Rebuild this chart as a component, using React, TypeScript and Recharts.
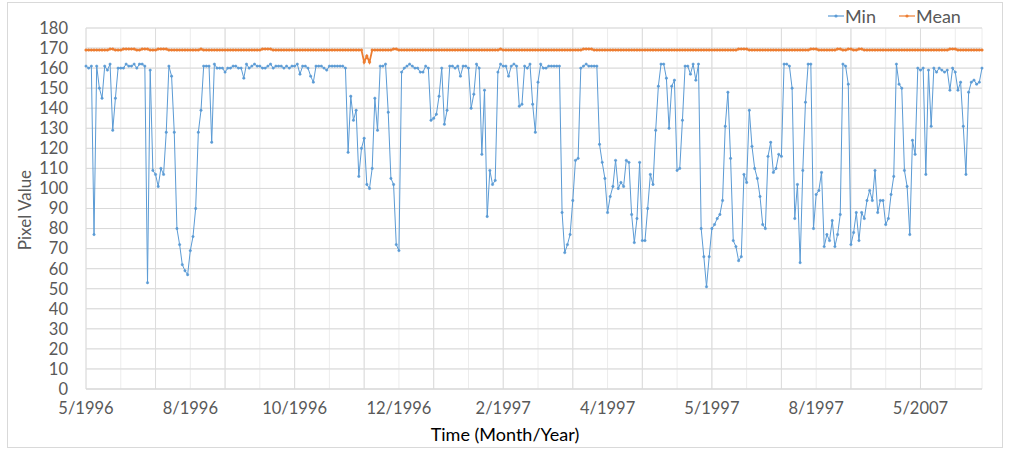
import {
  LineChart,
  Line,
  XAxis,
  YAxis,
  CartesianGrid,
  ReferenceLine,
  Legend,
} from 'recharts';

const X_LABELS = ['5/1996', '8/1996', '10/1996', '12/1996', '2/1997', '4/1997', '5/1997', '8/1997', '5/2007'];
const LABEL_STEP = 39;
const X_TICKS = [0, 13, 26, 39, 52, 65, 78, 91, 104, 117, 130, 143, 156, 169, 182, 195, 208, 221, 234, 247, 260, 273, 286, 299, 312, 325];
const MAJOR_X = [0, 26, 52, 78, 104, 130, 156, 182, 208, 234, 260, 286, 312];
const Y_TICKS = [0, 10, 20, 30, 40, 50, 60, 70, 80, 90, 100, 110, 120, 130, 140, 150, 160, 170, 180];

const MIN_VALUES = [
  161, 160, 161, 77, 161, 150, 145, 161, 159, 162,
  129, 145, 160, 160, 160, 162, 161, 161, 162, 160,
  162, 162, 161, 53, 159, 109, 107, 101, 110, 107,
  128, 161, 156, 128, 80, 72, 62, 59, 57, 69,
  76, 90, 128, 139, 161, 161, 161, 123, 162, 160,
  160, 160, 158, 160, 160, 161, 161, 160, 160, 155,
  162, 160, 161, 162, 161, 161, 160, 160, 161, 162,
  160, 161, 161, 161, 160, 161, 160, 161, 161, 162,
  157, 161, 161, 160, 156, 153, 161, 161, 161, 160,
  159, 161, 161, 161, 161, 161, 161, 160, 118, 146,
  134, 139, 106, 120, 125, 102, 100, 110, 145, 129,
  161, 161, 162, 138, 105, 102, 72, 69, 158, 160,
  161, 162, 161, 160, 160, 158, 158, 161, 160, 134,
  135, 137, 146, 160, 132, 139, 161, 161, 160, 161,
  156, 161, 161, 160, 140, 147, 162, 160, 117, 149,
  86, 109, 102, 104, 158, 162, 161, 161, 156, 161,
  162, 161, 141, 142, 161, 160, 162, 142, 128, 153,
  162, 160, 160, 161, 161, 161, 161, 161, 88, 68,
  72, 77, 94, 114, 115, 160, 161, 162, 161, 161,
  161, 161, 122, 113, 105, 88, 96, 101, 114, 100,
  103, 101, 114, 113, 87, 73, 85, 113, 74, 74,
  90, 107, 102, 129, 151, 162, 162, 155, 130, 151,
  154, 109, 110, 134, 161, 161, 157, 162, 154, 162,
  80, 66, 51, 66, 80, 82, 85, 87, 94, 131,
  148, 115, 74, 71, 64, 66, 107, 103, 139, 121,
  110, 105, 96, 82, 80, 116, 123, 108, 110, 117,
  116, 162, 162, 161, 150, 85, 102, 63, 109, 143,
  162, 162, 80, 97, 99, 108, 71, 77, 74, 84,
  71, 77, 87, 162, 161, 152, 72, 78, 88, 74,
  88, 85, 94, 99, 94, 109, 88, 94, 94, 82,
  85, 97, 106, 162, 152, 150, 109, 101, 77, 124,
  117, 160, 159, 160, 107, 159, 131, 160, 158, 160,
  159, 158, 159, 149, 160, 158, 149, 153, 131, 107,
  148, 153, 154, 152, 153, 160,
];

const MEAN_VALUES = [
  169, 169, 169, 169, 169, 169, 169, 169, 169, 169.5, 169.5, 169, 169, 169, 169.5, 169.5, 169.5, 169.5, 169.5, 169,
  169, 169.5, 169.5, 169.5, 169, 169, 169, 169.5, 169.5, 169.5, 169.5, 169, 169, 169, 169, 169, 169, 169, 169, 169,
  169, 169, 169, 169.5, 169, 169, 169, 169, 169, 169, 169, 169, 169, 169, 169, 169, 169, 169, 169, 169,
  169, 169, 169, 169, 169, 169, 169.5, 169.5, 169.5, 169.5, 169, 169, 169, 169, 169, 169, 169, 169, 169, 169,
  169, 169, 169, 169, 169, 169, 169, 169, 169, 169, 169, 169, 169, 169, 169, 169, 169, 169, 169, 169,
  169, 169, 169, 169, 163, 166, 163, 169, 169, 169, 169, 169, 169, 169, 169, 169.5, 169.5, 169, 169, 169,
  169, 169, 169, 169, 169, 169, 169, 169, 169, 169, 169, 169, 169, 169, 169, 169, 169, 169, 169, 169,
  169, 169, 169, 169, 169, 169, 169, 169, 169, 169, 169, 169, 169, 169, 169, 169.5, 169, 169, 169, 169,
  169, 169, 169, 169, 169, 169, 169, 169, 169, 169, 169, 169, 169, 169, 169, 169, 169, 169, 169, 169,
  169, 169, 169, 169, 169, 169, 169.5, 169.5, 169.5, 169.5, 169, 169, 169, 169, 169, 169, 169, 169, 169, 169,
  169, 169, 169, 169, 169, 169, 169, 169, 169, 169, 169, 169, 169, 169, 169, 169, 169, 169, 169, 169,
  169, 169, 169, 169, 169, 169, 169, 169, 169, 169, 169, 169, 169, 169, 169, 169, 169, 169, 169, 169,
  169, 169, 169, 169, 169.5, 169.5, 169.5, 169.5, 169, 169, 169, 169, 169, 169, 169, 169, 169, 169, 169, 169,
  169, 169, 169, 169, 169, 169, 169, 169, 169, 169, 169, 169.5, 169.5, 169.5, 169, 169, 169, 169, 169, 169,
  169, 169.5, 169.5, 169, 169, 169.5, 169.5, 169, 169, 169.5, 169.5, 169, 169, 169, 169, 169, 169, 169, 169, 169,
  169, 169, 169, 169, 169, 169, 169, 169, 169, 169, 169, 169, 169, 169, 169, 169, 169, 169, 169, 169,
  169, 169, 169, 169.5, 169.5, 169.5, 169, 169, 169, 169, 169, 169, 169, 169, 169, 169,
];

const MIN_COLOR = '#5B9BD5';
const MEAN_COLOR = '#ED7D31';
const TEXT_COLOR = '#595959';

const data = MIN_VALUES.map((v, i) => ({ i, min: v, mean: MEAN_VALUES[i] }));

const SERIES = [
  { key: 'min', name: 'Min', color: MIN_COLOR },
  { key: 'mean', name: 'Mean', color: MEAN_COLOR },
];

function LegendContent() {
  return (
    <div style={{ display: 'flex', alignItems: 'center', fontSize: 18, color: TEXT_COLOR, lineHeight: '22px' }}>
      {SERIES.map((s) => (
        <div key={s.key} style={{ display: 'flex', alignItems: 'center', marginRight: 23 }}>
          <svg width={16} height={10}>
            <line x1={0} y1={5} x2={16} y2={5} stroke={s.color} strokeWidth={1.2} />
            <circle cx={8} cy={5} r={1.6} fill={s.color} />
          </svg>
          <span style={{ marginLeft: 1 }}>{s.name}</span>
        </div>
      ))}
    </div>
  );
}

export default function App() {
  return (
    <div
      style={{
        position: 'absolute',
        left: 7,
        top: 2,
        width: 996,
        height: 446,
        border: '1px solid #d9d9d9',
        boxSizing: 'border-box',
        fontFamily: 'Lato, "Open Sans", sans-serif',
        background: '#fff',
      }}
    >
      <LineChart width={994} height={444} data={data} margin={{ top: 25, right: 20, left: 0, bottom: 0 }}>
        <CartesianGrid stroke="#ececec" strokeWidth={1} />
        <CartesianGrid stroke="#d9d9d9" vertical={false} />
        {MAJOR_X.map((x) => (
          <ReferenceLine key={x} x={x} stroke="#dcdcdc" strokeWidth={1} />
        ))}
        <XAxis
          dataKey="i"
          type="number"
          domain={[0, 335]}
          ticks={X_TICKS}
          interval={0}
          tickFormatter={(v: number) => (v % LABEL_STEP === 0 ? X_LABELS[v / LABEL_STEP] : '')}
          tick={{ fontSize: 16.5, fill: TEXT_COLOR }}
          axisLine={{ stroke: '#d9d9d9' }}
          tickLine={false}
          tickSize={0}
          tickMargin={13}
          height={58}
        />
        <YAxis
          domain={[0, 180]}
          ticks={Y_TICKS}
          interval={0}
          tick={{ fontSize: 16.5, fill: TEXT_COLOR }}
          axisLine={false}
          tickLine={false}
          tickSize={0}
          tickMargin={18}
          width={78}
        />
        <Legend
          layout="horizontal"
          verticalAlign="middle"
          align="center"
          wrapperStyle={{ left: 820, top: 2, width: 'auto' }}
          content={() => <LegendContent />}
        />
        <Line
          type="linear"
          dataKey="mean"
          name="Mean"
          stroke={MEAN_COLOR}
          strokeWidth={1.8}
          dot={{ r: 1.3, fill: MEAN_COLOR, stroke: MEAN_COLOR, strokeWidth: 0.5 }}
          isAnimationActive={false}
        />
        <Line
          type="linear"
          dataKey="min"
          name="Min"
          stroke={MIN_COLOR}
          strokeWidth={1}
          dot={{ r: 1.2, fill: MIN_COLOR, stroke: MIN_COLOR, strokeWidth: 0.5 }}
          isAnimationActive={false}
        />
      </LineChart>
      <div
        style={{
          position: 'absolute',
          left: 0,
          right: 0,
          top: 421,
          textAlign: 'center',
          fontSize: 18,
          lineHeight: '20px',
          color: '#000',
        }}
      >
        Time (Month/Year)
      </div>
      <div
        style={{
          position: 'absolute',
          left: 17 - 100,
          top: 207 - 10,
          width: 200,
          height: 20,
          lineHeight: '20px',
          textAlign: 'center',
          fontSize: 17,
          color: TEXT_COLOR,
          transform: 'rotate(-90deg)',
        }}
      >
        Pixel Value
      </div>
    </div>
  );
}
